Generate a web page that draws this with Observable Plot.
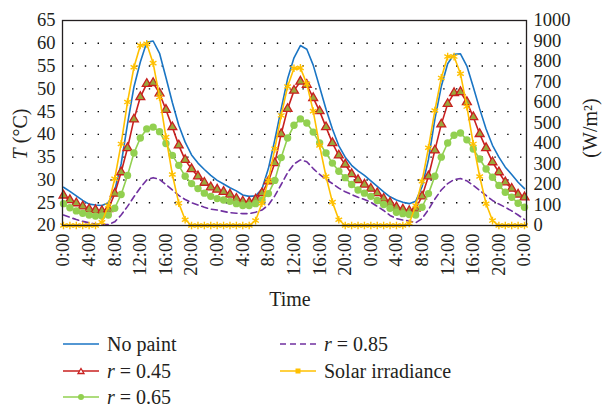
<!DOCTYPE html>
<html>
<head>
<meta charset="utf-8">
<script src="https://cdn.jsdelivr.net/npm/d3@7"></script>
<script src="https://cdn.jsdelivr.net/npm/@observablehq/plot@0.6"></script>
<style>
  html, body { margin: 0; padding: 0; background: #fff; }
  #wrap { width: 602px; font-family: "Liberation Serif", "DejaVu Serif", serif; color: #231f20; }
  #legend { position: relative; width: 602px; height: 92px; font-size: 20px; }
  .item { position: absolute; height: 24px; display: flex; align-items: center; white-space: nowrap; }
  .item svg { margin-right: 8px; }
</style>
</head>
<body>
<div id="wrap">
  <div id="chart"></div>
  <div id="legend"></div>
</div>
<script>
// ---- data (hourly, 0..72 h) ----
const hours = Array.from({length: 73}, (_, i) => i);

const noPaint = [
  28.4, 27.5, 26.5, 25.5, 24.7, 24.5, 24.4, 25.0, 27.7, 33.5, 42.3, 50.4, 55.9, 60.2, 60.5, 57.8, 52.5, 47.0, 42.0, 38.3, 35.5, 33.7, 32.3, 31.0,
  29.9, 29.1, 28.3, 27.6, 26.7, 26.4, 26.5, 28.0, 32.5, 38.8, 45.6, 52.2, 56.8, 59.5, 58.7, 55.2, 50.4, 45.5, 41.2, 37.5, 35.0, 33.2, 32.0, 31.0,
  29.8, 28.6, 27.4, 26.3, 25.6, 25.1, 24.8, 25.3, 28.5, 34.5, 43.3, 50.5, 55.5, 57.6, 57.7, 55.0, 50.4, 45.6, 41.2, 37.6, 35.0, 32.8, 31.2, 29.5,
  28.1
];
const r045 = [
  26.6, 25.6, 24.9, 24.2, 23.6, 23.4, 23.2, 23.6, 27.0, 31.7, 37.0, 43.3, 48.2, 51.1, 51.3, 49.0, 45.4, 41.6, 37.6, 34.4, 32.4, 30.8, 29.4, 28.4,
  27.9, 27.4, 26.8, 25.9, 25.3, 25.1, 25.7, 27.1, 29.7, 33.7, 40.1, 45.6, 49.6, 51.6, 50.9, 48.0, 45.1, 41.6, 38.1, 35.4, 33.4, 31.3, 30.0, 29.0,
  28.1, 27.1, 25.9, 25.0, 24.0, 23.5, 23.2, 23.7, 26.4, 30.8, 36.5, 42.2, 46.7, 49.1, 49.3, 47.1, 43.8, 40.1, 37.0, 33.9, 31.7, 29.5, 28.1, 26.8,
  26.2
];
const r065 = [
  24.8, 23.9, 23.2, 22.7, 22.3, 22.1, 22.1, 22.3, 23.8, 26.8, 31.0, 35.9, 39.2, 41.2, 41.6, 40.6, 38.0, 35.4, 33.2, 30.8, 29.2, 28.1, 27.1, 26.4,
  25.9, 25.6, 25.3, 24.8, 24.4, 24.4, 24.8, 25.6, 27.0, 29.9, 34.9, 39.2, 42.0, 43.4, 42.5, 40.5, 38.1, 35.9, 33.7, 31.9, 30.5, 29.0, 27.8, 27.1,
  26.4, 25.5, 24.6, 23.8, 22.9, 22.6, 22.4, 22.3, 24.0, 27.0, 30.8, 35.0, 38.1, 39.8, 40.3, 38.8, 36.8, 34.6, 32.4, 30.6, 28.8, 27.3, 26.2, 24.9,
  24.0
];
const r085 = [
  22.3, 21.8, 21.3, 20.9, 20.6, 20.3, 20.2, 20.2, 20.8, 22.3, 24.2, 26.3, 28.3, 30.0, 30.5, 30.1, 29.0, 27.8, 26.6, 25.7, 25.0, 24.5, 24.0, 23.6,
  23.4, 23.1, 22.8, 22.7, 22.6, 22.6, 22.9, 23.4, 24.5, 26.5, 29.0, 31.6, 33.5, 34.4, 34.0, 32.5, 31.2, 30.1, 29.2, 28.2, 27.4, 26.8, 26.2, 25.7,
  25.1, 24.2, 23.3, 22.2, 21.5, 21.2, 21.0, 20.6, 21.5, 23.5, 25.8, 27.8, 29.2, 30.1, 30.3, 29.8, 28.8, 27.7, 26.6, 25.5, 24.7, 24.0, 23.2, 22.3,
  21.3
];
const solar = [
  0, 0, 0, 0, 0, 0, 16, 98, 228, 398, 602, 772, 878, 886, 792, 626, 431, 249, 109, 28, 0, 0, 0, 0,
  0, 0, 0, 0, 0, 0, 24, 109, 220, 374, 537, 678, 767, 769, 691, 558, 390, 239, 114, 28, 0, 0, 0, 0,
  0, 0, 0, 0, 0, 0, 10, 98, 216, 379, 561, 720, 824, 824, 740, 580, 398, 239, 106, 24, 0, 0, 0, 0,
  0
];

const xTicks = [0, 4, 8, 12, 16, 20, 24, 28, 32, 36, 40, 44, 48, 52, 56, 60, 64, 68, 72];
const xTickLabels = ["0:00","4:00","8:00","12:00","16:00","20:00","0:00","4:00","8:00","12:00","16:00","20:00","0:00","4:00","8:00","12:00","16:00","20:00","0:00"];
const leftTicks = [20, 25, 30, 35, 40, 45, 50, 55, 60, 65];
const rightTicks = [0, 100, 200, 300, 400, 500, 600, 700, 800, 900, 1000];
const rightTickLabels = ["0","100","200","300","400","500","600","700","800","900","1000"];
const gridTicks = [25, 30, 35, 40, 45, 50, 55, 60];

const seriesNames = ["No paint", "r = 0.45", "r = 0.65", "r = 0.85", "Solar irradiance"];
const colors = {blue: "#1a75c4", red: "#c8201f", redFill: "#9aa83c", green: "#92d050", purple: "#7030a0", yellow: "#ffc000"};

// right axis (W/m2) mapped onto the temperature scale: 0..1000 -> 20..65
const toT = w => 20 + w * 45 / 1000;

const rows = hours.map((h, i) => ({h, np: noPaint[i], a: r045[i], b: r065[i], c: r085[i], s: toT(solar[i])}));

const plot = Plot.plot({
  width: 602,
  height: 315,
  marginLeft: 62,
  marginRight: 76,
  marginTop: 20,
  marginBottom: 90,
  x: {domain: [0, 72], range: [63, 524]},
  y: {domain: [20, 65]},
  style: {fontFamily: "Liberation Serif", fontSize: "18px", color: "#231f20", background: "white", overflow: "visible"},
  marks: [
    Plot.gridY(gridTicks, {stroke: "#000", strokeOpacity: 1, strokeWidth: 1.4, strokeDasharray: "1.4,11.4", strokeDashoffset: -10}),
    Plot.axisY(leftTicks, {anchor: "left", tickSize: 0, tickPadding: 7, label: null, fontSize: 18.5}),
    Plot.axisY(rightTicks.map(toT), {anchor: "right", tickSize: 0, tickPadding: 7, label: null, fontSize: 18.5,
      tickFormat: d => rightTickLabels[rightTicks.map(toT).indexOf(d)]}),
    Plot.axisX(xTicks, {anchor: "bottom", tickSize: 0, tickPadding: 8, tickRotate: -90, label: null, fontSize: 18.5,
      tickFormat: d => xTickLabels[xTicks.indexOf(d)]}),
    Plot.line(rows, {x: "h", y: "np", stroke: colors.blue, strokeWidth: 1.6}),
    Plot.line(rows, {x: "h", y: "a", stroke: colors.red, strokeWidth: 1.6}),
    Plot.dot(rows, {x: "h", y: "a", symbol: "triangle", r: 3.3, stroke: colors.red, strokeWidth: 1.3, fill: colors.redFill}),
    Plot.line(rows, {x: "h", y: "b", stroke: colors.green, strokeWidth: 1.6}),
    Plot.dot(rows, {x: "h", y: "b", symbol: "circle", r: 3.7, fill: colors.green}),
    Plot.line(rows, {x: "h", y: "c", stroke: colors.purple, strokeWidth: 1.6, strokeDasharray: "6,4"}),
    Plot.line(rows, {x: "h", y: "s", stroke: colors.yellow, strokeWidth: 1.6}),
    Plot.dot(rows, {x: "h", y: "s", symbol: "asterisk", r: 3.6, stroke: colors.yellow, strokeWidth: 1.4}),
    Plot.frame({stroke: "#231f20", strokeWidth: 1.3})
  ]
});

const svg = d3.select(plot);
// left axis title
const lt = svg.append("text")
  .attr("transform", "translate(27,134) rotate(-90)")
  .attr("text-anchor", "middle")
  .attr("font-size", 20)
  .attr("fill", "#231f20");
lt.append("tspan").attr("font-style", "italic").text("T");
lt.append("tspan").text(" (°C)");
// right axis title
svg.append("text")
  .attr("transform", "translate(597,128) rotate(-90)")
  .attr("text-anchor", "middle")
  .attr("font-size", 20)
  .attr("fill", "#231f20")
  .text("(W/m²)");
// x axis title
svg.append("text")
  .attr("x", 290).attr("y", 306)
  .attr("text-anchor", "middle")
  .attr("font-size", 20)
  .attr("fill", "#231f20")
  .text("Time");

document.getElementById("chart").appendChild(plot);

// ---- legend ----
const legendItems = [
  {name: seriesNames[0], color: colors.blue, left: 63, top: 29, kind: "line"},
  {name: seriesNames[1], color: colors.red, left: 63, top: 56, kind: "tri"},
  {name: seriesNames[2], color: colors.green, left: 63, top: 82, kind: "dot"},
  {name: seriesNames[3], color: colors.purple, left: 280, top: 29, kind: "dash"},
  {name: seriesNames[4], color: colors.yellow, left: 280, top: 56, kind: "sq"}
];
const legend = document.getElementById("legend");
for (const it of legendItems) {
  const div = document.createElement("div");
  div.className = "item";
  div.style.left = it.left + "px";
  div.style.top = (it.top - 12) + "px";
  let marker = "";
  if (it.kind === "tri") marker = `<path d="M18,9.5 L21,14.5 L15,14.5 Z" fill="#fff" stroke="${it.color}" stroke-width="1.3"/>`;
  if (it.kind === "dot") marker = `<circle cx="18" cy="12" r="3" fill="${it.color}"/>`;
  if (it.kind === "sq") marker = `<rect x="15.5" y="9.5" width="5" height="5" fill="${it.color}"/>`;
  const dash = it.kind === "dash" ? ` stroke-dasharray="6,4"` : "";
  const label = it.name.startsWith("r = ") ? `<i>r</i>&nbsp;=&nbsp;${it.name.slice(4)}` : it.name;
  div.innerHTML = `<svg width="36" height="24"><line x1="0" x2="36" y1="12" y2="12" stroke="${it.color}" stroke-width="1.6"${dash}/>${marker}</svg><span>${label}</span>`;
  legend.appendChild(div);
}
</script>
</body>
</html>
